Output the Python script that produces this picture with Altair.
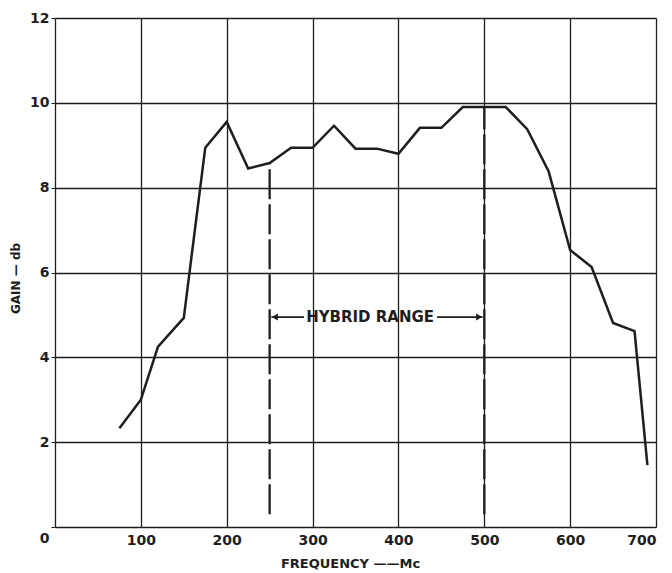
import altair as alt
import pandas as pd

# Gain curve
freq = [75, 100, 120, 150, 175, 200, 225, 250, 275, 300, 325, 350, 375, 400,
        425, 450, 475, 525, 550, 575, 600, 625, 650, 675, 690]
gain = [2.33, 3.0, 4.25, 4.93, 8.94, 9.55, 8.45, 8.58, 8.94, 8.94, 9.46, 8.92,
        8.92, 8.8, 9.41, 9.41, 9.9, 9.9, 9.38, 8.38, 6.53, 6.13, 4.81, 4.62, 1.46]

# Hybrid range markers
hyb_x = [250, 500]
hyb_top = [8.58, 9.9]
hyb_bottom = [0.3, 0.3]
arrow_y = 4.95
arrow_left = [252, 290]
arrow_right = [445, 498]
label_x = 367
label_text = "HYBRID RANGE"

x_ticks = [0, 100, 200, 300, 400, 500, 600, 700]
y_ticks = [0, 2, 4, 6, 8, 10, 12]

FONT = "DejaVu Sans"
INK = "#1e1e1e"

xs = alt.Scale(domain=[0, 700], nice=False)
ys = alt.Scale(domain=[0, 12], nice=False)

curve_df = pd.DataFrame({"f": freq, "g": gain})
base = alt.Chart(curve_df)

curve = base.mark_line(color=INK, strokeWidth=2.5).encode(
    x=alt.X("f:Q", scale=xs, axis=alt.Axis(
        values=x_ticks, title="FREQUENCY \u2014\u2014Mc",
        labelExpr="datum.value == 0 ? '' : datum.label",
        grid=True, gridColor=INK, gridWidth=1.3, gridOpacity=1,
        domain=False, ticks=False, labelPadding=6,
        labelFont=FONT, labelFontSize=14, labelColor=INK, labelFontWeight="bold",
        titleFont=FONT, titleFontSize=13, titleFontWeight="bold",
        titleColor=INK, titlePadding=10, titleX=295)),
    y=alt.Y("g:Q", scale=ys, axis=alt.Axis(
        values=y_ticks, title="GAIN \u2014 db",
        grid=True, gridColor=INK, gridWidth=1.3, gridOpacity=1,
        domain=False, ticks=True, tickSize=4, tickColor=INK,
        labelPadding=2,
        labelOffset={"condition": {"test": "datum.value == 0", "value": 11}, "value": 0},
        labelFont=FONT, labelFontSize=14, labelColor=INK, labelFontWeight="bold",
        titleFont=FONT, titleFontSize=12, titleFontWeight="bold",
        titleColor=INK, titlePadding=7, titleY=260)),
)

hyb_df = pd.DataFrame({"x": hyb_x, "top": hyb_top, "bot": hyb_bottom})
hyb = alt.Chart(hyb_df).mark_rule(color=INK, strokeWidth=2.3, strokeDash=[30, 5]).encode(
    x=alt.X("x:Q", scale=xs), y=alt.Y("bot:Q", scale=ys), y2="top:Q")

arr_df = pd.DataFrame({"x1": [arrow_left[0], arrow_right[0]],
                       "x2": [arrow_left[1], arrow_right[1]],
                       "y": [arrow_y, arrow_y]})
arr = alt.Chart(arr_df).mark_rule(color=INK, strokeWidth=1.8).encode(
    x=alt.X("x1:Q", scale=xs), x2="x2:Q", y=alt.Y("y:Q", scale=ys))

head_df = pd.DataFrame({"x": [arrow_left[0] + 4, arrow_right[1] - 4],
                        "y": [arrow_y, arrow_y],
                        "s": ["triangle-left", "triangle-right"]})
heads = alt.Chart(head_df).mark_point(filled=True, color=INK, opacity=1, size=50).encode(
    x=alt.X("x:Q", scale=xs), y=alt.Y("y:Q", scale=ys),
    shape=alt.Shape("s:N", scale=None))

lab_df = pd.DataFrame({"x": [label_x], "y": [arrow_y], "t": [label_text]})
lab = alt.Chart(lab_df).mark_text(font=FONT, fontSize=15, fontWeight="bold", color=INK,
                                  baseline="middle", align="center").encode(
    x=alt.X("x:Q", scale=xs), y=alt.Y("y:Q", scale=ys), text="t:N")

chart = alt.layer(curve, hyb, arr, heads, lab).properties(
    width=601, height=509,
    autosize=alt.AutoSizeParams(type="none"),
    padding={"left": 47, "top": 10, "right": 8, "bottom": 46},
).configure_view(stroke=INK, strokeWidth=2.2).configure(background="white")

chart.save("out.html", embed_options={"renderer": "svg", "actions": False})
